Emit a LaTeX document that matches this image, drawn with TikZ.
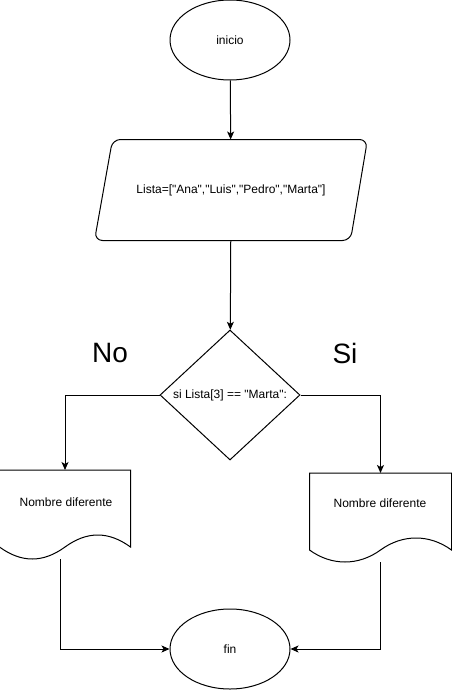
\documentclass[tikz,border=0pt]{standalone}
\usepackage{fontspec}
\setmainfont{Liberation Sans}[Ligatures=TeXOff]
\usetikzlibrary{shapes.geometric,arrows.meta}
\begin{document}
\begin{tikzpicture}[x=1pt, y=-1pt, >={Stealth[length=8pt,width=7pt,inset=2pt]}, line width=1pt,
    font=\fontsize{12}{14}\selectfont,
    term/.style={draw, ellipse, minimum width=120pt, minimum height=80pt},
    decision/.style={draw, diamond, minimum width=140pt, minimum height=130pt, inner sep=0pt},
    hoja/.style={minimum height=76pt, anchor=north, inner sep=0pt},
    rotulo/.style={font=\fontsize{28}{30}\selectfont}]
\useasboundingbox (0,0) rectangle (451,690);
\node[term] (inicio) at (230,40) {inicio};
\node[minimum width=272pt, minimum height=100pt] (lista) at (231,190) {Lista=["Ana","Luis","Pedro","Marta"]};
\draw[rounded corners=8pt] (lista.north) -- (lista.north east) -- ([xshift=-17pt]lista.south east)
    -- (lista.south west) -- ([xshift=18pt]lista.north west) -- cycle;
\node[decision] (cond) at (230,395) {si Lista[3] == "Marta":};
\node[rotulo] (etqNo) at (110,353) {No};
\node[rotulo] (etqSi) at (345,353) {Si};
\node[hoja, minimum width=130pt] (docNo) at (65,470) {};
\node[hoja, minimum width=141pt] (docSi) at (380.5,473) {};
\foreach \d in {docNo,docSi}
{
    \draw (\d.north west) -- (\d.north east) -- (\d.south east)
        .. controls +(-22,-16) and +(22,-16) .. (\d.south)
        .. controls +(-22,16) and +(22,16) .. (\d.south west) -- cycle;
}
\node (txtNo) at (66,502) {Nombre diferente};
\node (txtSi) at (380,503) {Nombre diferente};
\node[term] (fin) at (230,649) {fin};
\draw[->] (inicio) -- (lista);
\draw[->] (lista) -- (cond);
\draw[->] (cond.west) -| (docNo.north);
\draw[->] (cond.east) -| (docSi.north);
\draw[->] ([shift={(-5,12)}]docNo.south) |- (fin.west);
\draw[->] ([shift={(0,12)}]docSi.south) |- (fin.east);
\end{tikzpicture}
\end{document}
